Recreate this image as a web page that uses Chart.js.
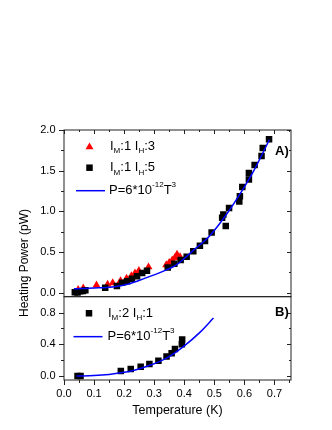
<!DOCTYPE html>
<html>
<head>
<meta charset="utf-8">
<script src="https://cdn.jsdelivr.net/npm/chart.js@4.4.1/dist/chart.umd.min.js"></script>
<style>
  html, body { margin: 0; padding: 0; background: #fff; }
  #wrap { width: 332px; height: 430px; }
</style>
</head>
<body>
<div id="wrap"><canvas id="heatChart" width="332" height="430"></canvas></div>
<script>
// temperature (K) and heating power (pW)

// panel A, I_M:1 I_H:3 (red triangles)
const redT = [0.047, 0.064, 0.108, 0.145, 0.162, 0.188, 0.208, 0.224, 0.236, 0.249, 0.281, 0.340, 0.350, 0.360, 0.369, 0.376, 0.386];
const redP = [0.037, 0.055, 0.092, 0.100, 0.120, 0.145, 0.175, 0.205, 0.240, 0.270, 0.315, 0.340, 0.370, 0.400, 0.430, 0.470, 0.440];

// panel A, I_M:1 I_H:5 (black squares)
const blackT = [0.036, 0.045, 0.054, 0.063, 0.071, 0.137, 0.176, 0.193, 0.210, 0.226, 0.243, 0.260, 0.276,
                0.345, 0.367, 0.388, 0.408, 0.430, 0.452, 0.469, 0.491, 0.526, 0.530, 0.538, 0.549,
                0.583, 0.585, 0.593, 0.615, 0.615, 0.634, 0.657, 0.661, 0.682];
const blackP = [0.005, 0.000, 0.017, 0.020, 0.030, 0.060, 0.080, 0.120, 0.140, 0.170, 0.200, 0.240, 0.270,
                0.310, 0.355, 0.400, 0.440, 0.510, 0.575, 0.635, 0.740, 0.920, 0.960, 0.820, 1.040,
                1.120, 1.185, 1.300, 1.390, 1.470, 1.570, 1.680, 1.780, 1.885];

// panel A, fit curve
const fitAT = [0.033, 0.100, 0.160, 0.215, 0.270, 0.325, 0.375, 0.430, 0.485, 0.540, 0.595, 0.630, 0.683];
const fitAP = [0.046, 0.056, 0.070, 0.107, 0.178, 0.255, 0.345, 0.520, 0.700, 0.960, 1.270, 1.490, 1.880];

// panel B, I_M:2 I_H:1 (black squares)
const lowT = [0.045, 0.055, 0.189, 0.222, 0.255, 0.284, 0.314, 0.341, 0.358, 0.369, 0.392, 0.393];
const lowP = [0.000, 0.000, 0.063, 0.089, 0.118, 0.152, 0.194, 0.245, 0.287, 0.340, 0.400, 0.460];

// panel B, fit curve
const fitBT = [0.042, 0.100, 0.150, 0.190, 0.240, 0.286, 0.341, 0.397, 0.452, 0.497];
const fitBP = [0.000, 0.006, 0.020, 0.040, 0.080, 0.135, 0.225, 0.370, 0.550, 0.730];

// tick labels
const xTicks = [0, 0.1, 0.2, 0.3, 0.4, 0.5, 0.6, 0.7];
const yTicksA = [0, 0.5, 1.0, 1.5, 2.0];
const yTicksB = [0, 0.4, 0.8];

// legend texts: [text, 'n' | 'sub' | 'sup']
const labelRed = [['I', 'n'], ['M', 'sub'], [':1 I', 'n'], ['H', 'sub'], [':3', 'n']];
const labelBlack = [['I', 'n'], ['M', 'sub'], [':1 I', 'n'], ['H', 'sub'], [':5', 'n']];
const labelLow = [['I', 'n'], ['M', 'sub'], [':2 I', 'n'], ['H', 'sub'], [':1', 'n']];
const labelFit = [['P=6*10', 'n'], ['-12', 'sup'], ['T', 'n'], ['3', 'sup']];

const FONT = '"Liberation Sans", Arial, Helvetica, sans-serif';
const zip = (xs, ys) => xs.map((x, i) => ({x, y: ys[i]}));

const richText = (ctx, x, y, parts, size) => {
    parts.forEach(([t, k]) => {
        const s = k === 'n' ? size : size * 0.62;
        const dy = k === 'sub' ? size * 0.38 : (k === 'sup' ? -size * 0.42 : 0);
        ctx.font = `${s}px ${FONT}`;
        ctx.fillText(t, x, y + dy);
        x += ctx.measureText(t).width;
    });
};

const marker = (ctx, style, x, y, r, color) => {
    ctx.fillStyle = color;
    ctx.beginPath();
    if (style === 'triangle') {
        ctx.moveTo(x, y - r);
        ctx.lineTo(x + 0.866 * r, y + 0.5 * r);
        ctx.lineTo(x - 0.866 * r, y + 0.5 * r);
        ctx.closePath();
    } else {
        const h = r * Math.SQRT1_2;
        ctx.rect(x - h, y - h, 2 * h, 2 * h);
    }
    ctx.fill();
};

const mids = (ticks, max) => {
    const out = [];
    const step = ticks[1] - ticks[0];
    ticks.forEach(v => {
        if (v + step / 2 < max - 1e-6) out.push(v + step / 2);
    });
    return out;
};

// frame, minor ticks, legends and panel labels
const decorPlugin = {
    id: 'decor',
    afterDraw(chart) {
        const ctx = chart.ctx;
        const xs = chart.scales.x, yA = chart.scales.yA, yB = chart.scales.yB;
        const L = chart.chartArea.left, R = chart.chartArea.right;
        ctx.save();
        ctx.strokeStyle = '#222';
        ctx.lineWidth = 1;
        [yA, yB].forEach(s => ctx.strokeRect(L, s.top, R - L, s.bottom - s.top));

        ctx.beginPath();
        const yTick = (s, vals, len, inLen) => {
            vals.forEach(v => {
                const p = Math.round(s.getPixelForValue(v)) + 0.5;
                ctx.moveTo(L, p); ctx.lineTo(L - len, p);
                ctx.moveTo(R, p); ctx.lineTo(R - inLen, p);
            });
        };
        yTick(yA, yTicksA, 5, 4);
        yTick(yA, mids(yTicksA, 2.0), 3, 2);
        yTick(yB, yTicksB, 5, 4);
        yTick(yB, mids(yTicksB, 1.0), 3, 2);
        const xTick = (vals, len, inLen) => {
            vals.forEach(v => {
                const p = Math.round(xs.getPixelForValue(v)) + 0.5;
                ctx.moveTo(p, yB.bottom); ctx.lineTo(p, yB.bottom + len);
                ctx.moveTo(p, yA.top); ctx.lineTo(p, yA.top + inLen);
            });
        };
        xTick(xTicks, 5, 4);
        xTick(mids(xTicks, 0.755), 3, 2);
        ctx.stroke();

        ctx.textBaseline = 'middle';
        ctx.textAlign = 'left';

        // panel A legend
        marker(ctx, 'triangle', L + 25.5, yA.top + 17, 4.6, '#ff0000');
        marker(ctx, 'rect', L + 25.5, yA.top + 37.7, 4.6, '#000');
        ctx.strokeStyle = '#0000ff';
        ctx.lineWidth = 1.5;
        ctx.beginPath();
        ctx.moveTo(L + 12, yA.top + 60.7); ctx.lineTo(L + 41, yA.top + 60.7);
        ctx.stroke();
        ctx.fillStyle = '#000';
        richText(ctx, L + 46, yA.top + 16, labelRed, 13);
        richText(ctx, L + 46, yA.top + 37.7, labelBlack, 13);
        richText(ctx, L + 45, yA.top + 60.7, labelFit, 13);

        // panel B legend
        marker(ctx, 'rect', L + 25, yB.top + 16.6, 4.6, '#000');
        ctx.beginPath();
        ctx.moveTo(L + 9.5, yB.top + 40); ctx.lineTo(L + 38.5, yB.top + 40);
        ctx.stroke();
        ctx.fillStyle = '#000';
        richText(ctx, L + 44, yB.top + 16.6, labelLow, 13);
        richText(ctx, L + 43.5, yB.top + 40, labelFit, 13);

        // panel letters
        ctx.font = `bold 13px ${FONT}`;
        ctx.fillText('A)', R - 16, yA.top + 21.7);
        ctx.fillText('B)', R - 16, yB.top + 16);

        // shared y title
        ctx.font = `12px ${FONT}`;
        ctx.textAlign = 'center';
        ctx.translate(25, 263);
        ctx.rotate(-Math.PI / 2);
        ctx.fillText('Heating Power (pW)', 0, 0);
        ctx.restore();
    }
};

const fixTicks = vals => scale => { scale.ticks = vals.map(v => ({value: v})); };
const tickFont = {family: FONT, size: 11};

new Chart(document.getElementById('heatChart'), {
    type: 'scatter',
    data: {
        datasets: [{
            type: 'line',
            label: 'fit A',
            data: zip(fitAT, fitAP),
            yAxisID: 'yA',
            borderColor: '#0000ff',
            borderWidth: 1.5,
            pointRadius: 0,
            cubicInterpolationMode: 'monotone',
            fill: false,
            order: 0,
        }, {
            type: 'line',
            label: 'fit B',
            data: zip(fitBT, fitBP),
            yAxisID: 'yB',
            borderColor: '#0000ff',
            borderWidth: 1.5,
            pointRadius: 0,
            cubicInterpolationMode: 'monotone',
            fill: false,
            order: 0,
        }, {
            label: 'I_M:1 I_H:5',
            data: zip(blackT, blackP),
            yAxisID: 'yA',
            pointStyle: 'rect',
            pointRadius: 4.6,
            pointBorderWidth: 0,
            backgroundColor: '#000',
            borderColor: '#000',
            order: 1,
        }, {
            label: 'I_M:2 I_H:1',
            data: zip(lowT, lowP),
            yAxisID: 'yB',
            pointStyle: 'rect',
            pointRadius: 4.6,
            pointBorderWidth: 0,
            backgroundColor: '#000',
            borderColor: '#000',
            order: 1,
        }, {
            label: 'I_M:1 I_H:3',
            data: zip(redT, redP),
            yAxisID: 'yA',
            pointStyle: 'triangle',
            pointRadius: 4.6,
            pointBorderWidth: 0,
            backgroundColor: '#ff0000',
            borderColor: '#ff0000',
            order: 2,
        }]
    },
    options: {
        responsive: false,
        animation: false,
        events: [],
        layout: {
            autoPadding: false,
            padding: {left: 20, top: 130, right: 41, bottom: 0}
        },
        scales: {
            x: {
                type: 'linear',
                min: 0,
                max: 0.755,
                afterBuildTicks: fixTicks(xTicks),
                afterFit: s => { s.height = 50; },
                grid: {display: false, drawTicks: false},
                border: {display: false},
                ticks: {
                    font: tickFont,
                    color: '#000',
                    padding: 7,
                    maxRotation: 0,
                    autoSkip: false,
                    callback: v => v.toFixed(1)
                },
                title: {
                    display: true,
                    text: 'Temperature (K)',
                    color: '#000',
                    font: {family: FONT, size: 12.5},
                    padding: {top: 0, bottom: 12}
                }
            },
            yB: {
                type: 'linear',
                position: 'left',
                stack: 'panels',
                stackWeight: 1,
                min: -0.05,
                max: 1.0,
                afterBuildTicks: fixTicks(yTicksB),
                afterFit: s => { s.width = 44; },
                grid: {display: false, drawTicks: false},
                border: {display: false},
                ticks: {font: tickFont, color: '#000', padding: 8.5, callback: v => v.toFixed(1)}
            },
            yA: {
                type: 'linear',
                position: 'left',
                stack: 'panels',
                stackWeight: 2,
                min: -0.05,
                max: 2.0,
                afterBuildTicks: fixTicks(yTicksA),
                afterFit: s => { s.width = 44; },
                grid: {display: false, drawTicks: false},
                border: {display: false},
                ticks: {font: tickFont, color: '#000', padding: 8.5, callback: v => v.toFixed(1)}
            }
        },
        plugins: {
            legend: {display: false},
            tooltip: {enabled: false},
            title: {display: false}
        }
    },
    plugins: [decorPlugin]
});
</script>
</body>
</html>
